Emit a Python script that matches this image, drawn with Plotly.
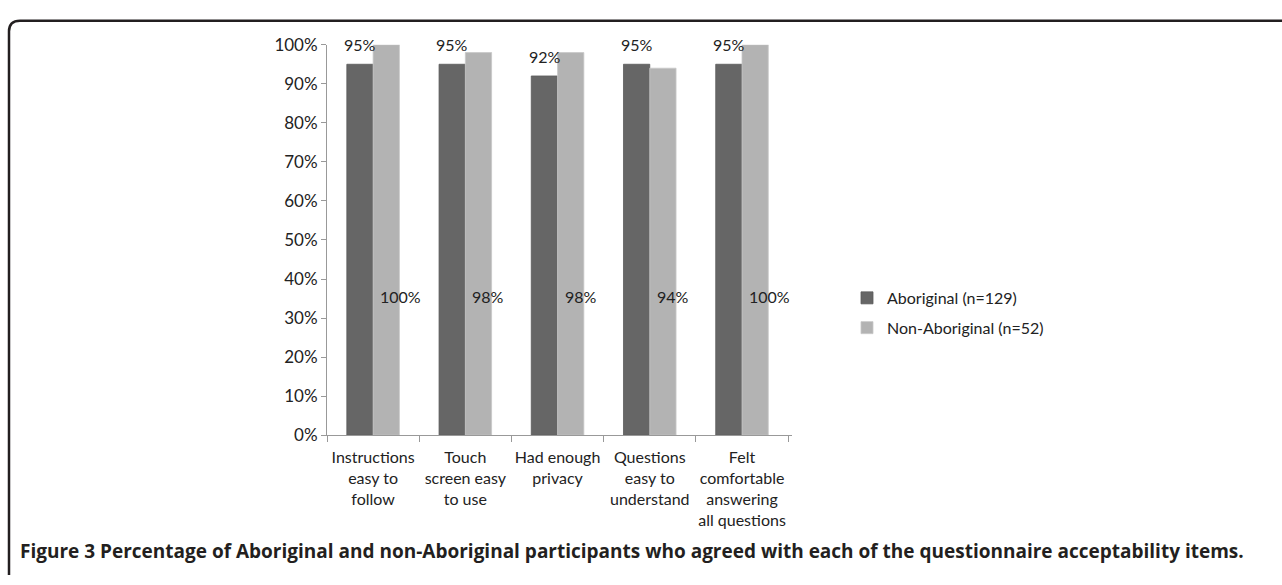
import plotly.graph_objects as go

categories = ["Instructions<br>easy to<br>follow", "Touch<br>screen easy<br>to use", "Had enough<br>privacy",
              "Questions<br>easy to<br>understand", "Felt<br>comfortable<br>answering<br>all questions"]
aboriginal = [95, 95, 92, 95, 95]
non_aboriginal = [100, 98, 98, 94, 100]
aboriginal_labels = ["95%", "95%", "92%", "95%", "95%"]
non_aboriginal_labels = ["100%", "98%", "98%", "94%", "100%"]
y_ticks = list(range(0, 101, 10))
y_tick_labels = [f"{v}%" for v in y_ticks]
series_names = ["Aboriginal (n=129)", "Non-Aboriginal (n=52)"]
caption = "Figure 3 Percentage of Aboriginal and non-Aboriginal participants who agreed with each of the questionnaire acceptability items."

W, H = 1282, 585
FONT = "Lato"
DARK = "#666666"
LIGHT = "#b3b3b3"

fig = go.Figure()
fig.add_trace(go.Bar(x=categories, y=aboriginal, name=series_names[0], legendgroup="a",
                     marker=dict(color=DARK, line=dict(color="#5a5a5a", width=0.8))))
fig.add_trace(go.Bar(x=categories, y=non_aboriginal, name=series_names[1], legendgroup="b",
                     marker=dict(color=LIGHT, line=dict(color="#c8c8c8", width=0.8))))

annotations = []
for c, v, t in zip(categories, aboriginal, aboriginal_labels):
    annotations.append(dict(x=c, y=v, text=t, showarrow=False, xref="x", yref="y",
                            xanchor="center", yanchor="bottom", xshift=-13, yshift=8,
                            font=dict(family=FONT, size=16, color="#222")))
LABEL_LEVEL = 35.5
for c, t in zip(categories, non_aboriginal_labels):
    annotations.append(dict(x=c, y=LABEL_LEVEL, text=t, showarrow=False, xref="x", yref="y",
                            xanchor="left", yanchor="middle", xshift=5,
                            font=dict(family=FONT, size=16, color="#222")))
annotations.append(dict(x=18 / W, y=1 - 560 / H, xref="paper", yref="paper", text="<b>" + caption + "</b>",
                        showarrow=False, xanchor="left", yanchor="middle",
                        font=dict(family="Open Sans", size=19, color="#231f20")))

# frame: left line and top line with rounded corner
x0 = 9 / W
yt = 1 - 10 / H
rx, ry = 11 / W, 11 / H
frame_path = f"M {x0},0 L {x0},{yt - ry} Q {x0},{yt} {x0 + rx},{yt} L 1,{yt}"

fig.update_layout(
    width=W, height=H,
    margin=dict(l=0, r=0, t=0, b=0),
    paper_bgcolor="white", plot_bgcolor="white",
    barmode="group", bargap=0.43, bargroupgap=0,
    font=dict(family=FONT, size=16, color="#222"),
    xaxis=dict(domain=[327 / W, 792 / W], showline=True, linecolor="#999999", linewidth=1,
               ticks="outside", tickson="boundaries", ticklen=6, tickcolor="#999999", tickangle=0,
               ticklabelstandoff=8,
               tickfont=dict(family=FONT, size=16, color="#222"), showgrid=False),
    yaxis=dict(domain=[1 - 440 / H, 1 - 35 / H], range=[0, 100], tickvals=y_ticks, ticktext=y_tick_labels,
               showline=True, linecolor="#999999", linewidth=1, ticks="outside", ticklen=5,
               tickcolor="#999999", showgrid=False, zeroline=False,
               tickfont=dict(family=FONT, size=17, color="#222")),
    legend=dict(x=847 / W, y=1 - 280 / H, xanchor="left", yanchor="top", tracegroupgap=6,
                font=dict(family=FONT, size=16, color="#222"), bgcolor="rgba(0,0,0,0)"),
    annotations=annotations,
    shapes=[dict(type="path", path=frame_path, xref="paper", yref="paper",
                 line=dict(color="#231f20", width=2.5))],
    showlegend=True,
)

fig.write_html("out.html", config={"displayModeBar": False},
               post_script="document.body.style.margin='0';document.body.style.overflow='hidden';")
